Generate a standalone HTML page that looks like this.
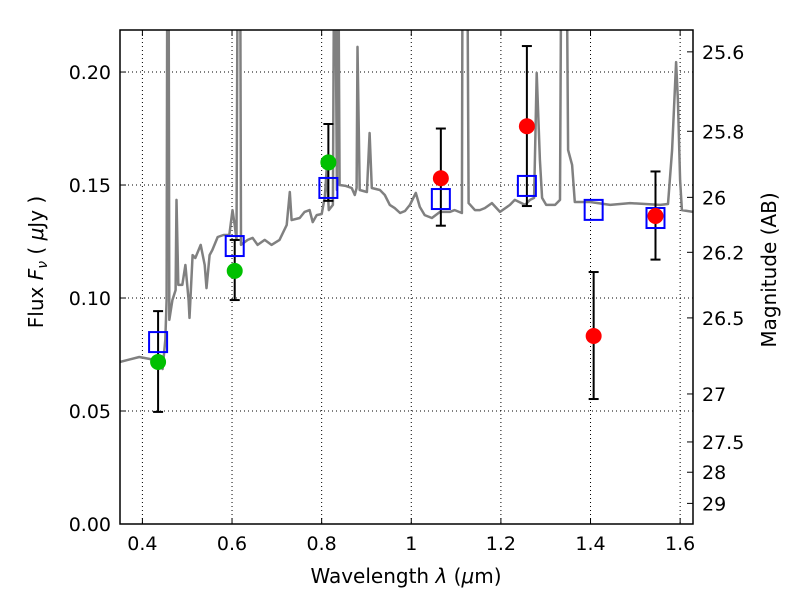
<!DOCTYPE html>
<html><head><meta charset="utf-8"><style>
html,body{margin:0;padding:0;background:#fff;}
svg{display:block;font-family:"DejaVu Sans","Liberation Sans",sans-serif;}
</style></head><body>
<svg id="chart" width="800" height="600" viewBox="0 0 800 600" xmlns="http://www.w3.org/2000/svg"></svg>
<script>
const specLambda=[0.349,0.393,0.427,0.438,0.445,0.451,0.454,0.456,0.458,0.460,0.467,0.474,0.476,0.480,0.489,0.496,0.503,0.505,0.512,0.518,0.530,0.539,0.543,0.550,0.556,0.568,0.581,0.594,0.601,0.606,0.610,0.6135,0.6175,0.620,0.635,0.646,0.657,0.673,0.688,0.706,0.722,0.729,0.733,0.751,0.762,0.773,0.780,0.789,0.800,0.807,0.811,0.816,0.825,0.829,0.834,0.836,0.840,0.854,0.867,0.874,0.878,0.880,0.885,0.901,0.907,0.912,0.930,0.941,0.952,0.963,0.975,0.986,0.997,1.010,1.019,1.030,1.046,1.064,1.086,1.097,1.113,1.115,1.124,1.128,1.142,1.153,1.164,1.180,1.198,1.220,1.231,1.254,1.265,1.274,1.280,1.287,1.292,1.301,1.321,1.332,1.336,1.345,1.350,1.359,1.365,1.399,1.444,1.488,1.555,1.573,1.582,1.591,1.595,1.600,1.604,1.629];
const specFlux=[0.0717,0.0739,0.0726,0.0717,0.0686,0.0814,0.0991,0.30,0.30,0.0903,0.0991,0.1035,0.1434,0.1058,0.1058,0.1146,0.0991,0.0912,0.1190,0.1177,0.1235,0.1146,0.1044,0.1190,0.1212,0.1270,0.1279,0.1279,0.1389,0.1323,0.1257,0.30,0.30,0.1235,0.1257,0.1266,0.1235,0.1257,0.1235,0.1257,0.1323,0.1469,0.1345,0.1354,0.1381,0.1389,0.1336,0.1367,0.1372,0.1447,0.1566,0.1389,0.1412,0.30,0.1478,0.30,0.1500,0.1496,0.1487,0.1456,0.1487,0.2111,0.1478,0.1469,0.1730,0.1487,0.1478,0.1456,0.1412,0.1398,0.1376,0.1385,0.1412,0.1465,0.1403,0.1367,0.1354,0.1381,0.1381,0.1389,0.1376,0.30,0.30,0.1420,0.1389,0.1389,0.1398,0.1420,0.1381,0.1412,0.1434,0.1412,0.1434,0.1443,0.1996,0.1611,0.1443,0.1412,0.1412,0.1434,0.30,0.30,0.1655,0.1589,0.1425,0.1425,0.1412,0.1420,0.1412,0.1416,0.1655,0.2044,0.1876,0.1522,0.1389,0.1381];
const greenLambda=[0.435,0.606,0.815];
const greenFlux=[0.0717,0.112,0.160];
const greenErrHi=[0.0942,0.1257,0.177];
const greenErrLo=[0.0496,0.0991,0.143];
const redLambda=[1.066,1.258,1.407,1.545];
const redFlux=[0.153,0.176,0.0832,0.1363];
const redErrHi=[0.175,0.2115,0.1115,0.156];
const redErrLo=[0.132,0.1407,0.0553,0.117];
const modelLambda=[0.435,0.606,0.815,1.066,1.258,1.407,1.545];
const modelFlux=[0.0805,0.123,0.1487,0.1438,0.1496,0.139,0.1354];
const xTicks=[0.4,0.6,0.8,1.0,1.2,1.4,1.6];
const xTickLabels=["0.4","0.6","0.8","1","1.2","1.4","1.6"];
const yTicks=[0,0.05,0.10,0.15,0.20];
const yTickLabels=["0.00","0.05","0.10","0.15","0.20"];
const magTicks=[25.6,25.8,26,26.2,26.5,27,27.5,28,29];
const magTickLabels=["25.6","25.8","26","26.2","26.5","27","27.5","28","29"];

const L=120,R=693,T=30,B=524;
const xMin=0.35,xMax=1.6287,yMin=0,yMax=0.2186;
const X=v=>L+(v-xMin)/(xMax-xMin)*(R-L);
const Y=v=>B-(v-yMin)/(yMax-yMin)*(B-T);
const NS="http://www.w3.org/2000/svg";
const svg=document.getElementById('chart');
function mk(tag,attrs,parent){const e=document.createElementNS(NS,tag);for(const k in attrs)e.setAttribute(k,attrs[k]);(parent||svg).appendChild(e);return e;}

const defs=mk('defs',{});
const cp=mk('clipPath',{id:'plotclip'},defs);
mk('rect',{x:L,y:T,width:R-L,height:B-T},cp);

const grid=mk('g',{});


xTicks.forEach(v=>{mk('line',{x1:X(v),x2:X(v),y1:T,y2:B,stroke:'#000','stroke-width':1,'stroke-dasharray':'1,3'},grid);});
yTicks.forEach(v=>{mk('line',{x1:L,x2:R,y1:Y(v),y2:Y(v),stroke:'#000','stroke-width':1,'stroke-dasharray':'1,3'},grid);});

const plot=mk('g',{'clip-path':'url(#plotclip)'});
let d='';specLambda.forEach((l,i)=>{d+=(i?'L':'M')+X(l).toFixed(1)+','+Y(specFlux[i]).toFixed(1);});
const sp=mk('path',{d:d,fill:'none',stroke:'#808080','stroke-width':2.5,'stroke-linejoin':'round'},plot);



function errbars(ls,hi,lo,name){
  ls.forEach((l,i)=>{const g=mk('g',{},plot);
    
    
    const x=X(l);
    mk('line',{x1:x,x2:x,y1:Y(hi[i]),y2:Y(lo[i]),stroke:'#000','stroke-width':2},g);
    mk('line',{x1:x-5,x2:x+5,y1:Y(hi[i]),y2:Y(hi[i]),stroke:'#000','stroke-width':2},g);
    mk('line',{x1:x-5,x2:x+5,y1:Y(lo[i]),y2:Y(lo[i]),stroke:'#000','stroke-width':2},g);
  });
}
errbars(greenLambda,greenErrHi,greenErrLo,'green-error-bar');
errbars(redLambda,redErrHi,redErrLo,'red-error-bar');
modelLambda.forEach((l,i)=>{
  const r=mk('rect',{x:X(l)-9,y:Y(modelFlux[i])-10,width:18,height:20,fill:'none',stroke:'#0000ff','stroke-width':2},plot);
  
  
});
greenLambda.forEach((l,i)=>{
  const c=mk('circle',{cx:X(l),cy:Y(greenFlux[i]),r:8,fill:'#00c000'},plot);
  
  
});
redLambda.forEach((l,i)=>{
  const c=mk('circle',{cx:X(l),cy:Y(redFlux[i]),r:8,fill:'#ff0000'},plot);
  
  
});

const fr=mk('rect',{x:L,y:T,width:R-L,height:B-T,fill:'none',stroke:'#000','stroke-width':1.5});



const xa=mk('g',{});


xTicks.forEach((v,i)=>{const x=X(v);
  mk('line',{x1:x,x2:x,y1:B,y2:B-6,stroke:'#000','stroke-width':1},xa);
  mk('line',{x1:x,x2:x,y1:T,y2:T+6,stroke:'#000','stroke-width':1},xa);
  const t=mk('text',{x:x,y:B+26,'text-anchor':'middle','font-size':19},xa);t.textContent=xTickLabels[i];
});
const ya=mk('g',{});


yTicks.forEach((v,i)=>{const y=Y(v);
  mk('line',{x1:L,x2:L+6,y1:y,y2:y,stroke:'#000','stroke-width':1},ya);
  const t=mk('text',{x:L-9,y:y+7,'text-anchor':'end','font-size':19},ya);t.textContent=yTickLabels[i];
});
const ma=mk('g',{});


magTicks.forEach((m,i)=>{const f=Math.pow(10,(23.9-m)/2.5);const y=Y(f);
  mk('line',{x1:R,x2:R-6,y1:y,y2:y,stroke:'#000','stroke-width':1},ma);
  const t=mk('text',{x:R+9,y:y+7,'font-size':19},ma);t.textContent=magTickLabels[i];
});
</script>
<svg style="position:absolute;left:0;top:0" width="800" height="600">
<text x="406" y="583" text-anchor="middle" font-size="20" font-family="DejaVu Sans, sans-serif">Wavelength  <tspan font-style="italic">λ</tspan> (<tspan font-style="italic">μ</tspan>m)</text>
<text transform="translate(43,262) rotate(-90)" text-anchor="middle" font-size="20" font-family="DejaVu Sans, sans-serif">Flux  <tspan font-style="italic">F</tspan><tspan font-style="italic" font-size="14" dy="4">ν</tspan><tspan dy="-4">  (  </tspan><tspan font-style="italic">μ</tspan>Jy )</text>
<text transform="translate(776,270) rotate(-90)" text-anchor="middle" font-size="20" font-family="DejaVu Sans, sans-serif">Magnitude (AB)</text>
</svg>
</body></html>
